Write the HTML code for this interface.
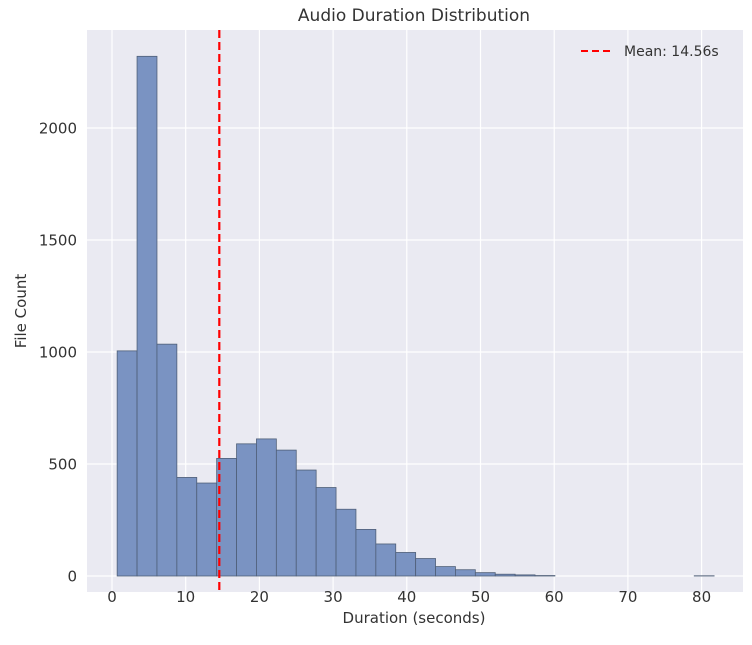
<!DOCTYPE html>
<html><head><meta charset="utf-8"><style>
body{margin:0;background:#fff;width:752px;height:640px;overflow:hidden}
svg text{font-family:"DejaVu Sans","Liberation Sans","Noto Sans CJK SC",sans-serif;fill:#333}
</style></head><body>
<svg id="chart" width="752" height="640">
<text x="414" y="21" text-anchor="middle" font-size="17">Audio Duration Distribution</text>
<rect x="87" y="30" width="656" height="562" fill="#eaeaf2"/>
<g id="grid"></g><g id="bars"></g><g id="marks"></g><g id="ticks"></g>
<text x="414" y="623" text-anchor="middle" font-size="15">Duration (seconds)</text>
<text transform="translate(26,311) rotate(-90)" text-anchor="middle" font-size="15">File Count</text>
<g>
<line x1="581" y1="51" x2="611" y2="51" stroke="#ff0000" stroke-width="2" stroke-dasharray="7,4"/>
<text x="624" y="56" font-size="14">Mean: 14.56s</text>
</g>
</svg>
<script>
const binStart = 0.7;
const binWidth = 2.7;
const counts = [1005,2320,1035,440,415,525,590,612,562,473,395,298,208,143,105,78,42,28,15,8,5,2,0,0,0,0,0,0,0,1];
const meanValue = 14.56;
const xTicks = [0,10,20,30,40,50,60,70,80];
const yTicks = [0,500,1000,1500,2000];
const NS='http://www.w3.org/2000/svg';
const X = v => 112 + v*7.37;
const Y = v => 576 - v*0.224;
function mk(tag, attrs, parent){const e=document.createElementNS(NS,tag);for(const k in attrs)e.setAttribute(k,attrs[k]);document.getElementById(parent).appendChild(e);return e;}
xTicks.forEach(t=>{
  const g=mk('line',{x1:X(t),x2:X(t),y1:30,y2:592,stroke:'#fff','stroke-width':1.2},'grid');
  
  
  const l=mk('text',{x:X(t),y:602,'text-anchor':'middle','font-size':15},'ticks');
  l.textContent=t;
  
  
});
yTicks.forEach(t=>{
  const g=mk('line',{x1:87,x2:743,y1:Y(t),y2:Y(t),stroke:'#fff','stroke-width':1.2},'grid');
  
  
  const l=mk('text',{x:77,y:Y(t)+5.5,'text-anchor':'end','font-size':15},'ticks');
  l.textContent=t;
  
  
});
counts.forEach((c,i)=>{
  if(c<=0)return;
  const x0=X(binStart+i*binWidth), x1=X(binStart+(i+1)*binWidth);
  const r=mk('rect',{x:x0,y:Y(c),width:x1-x0,height:Y(0)-Y(c),fill:'#7a93c2',stroke:'#4f5f78','stroke-width':0.8},'bars');
  
  
});
const m=mk('line',{x1:X(meanValue),x2:X(meanValue),y1:30,y2:592,stroke:'#ff0000','stroke-width':2.2,'stroke-dasharray':'8,4'},'marks');


</script>
</body></html>
